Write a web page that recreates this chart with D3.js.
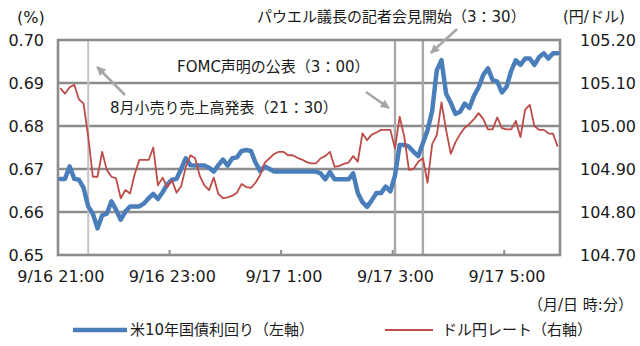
<!DOCTYPE html>
<html>
<head>
<meta charset="utf-8">
<script src="https://cdn.jsdelivr.net/npm/d3@7"></script>
<style>
  body { margin: 0; background: #fff; }
  svg { display: block; font-family: "DejaVu Sans", "Noto Sans CJK JP", sans-serif; }
</style>
</head>
<body>
<div id="chart"></div>
<script>
      // DATA
      // 5-minute observations, 9/16 21:00 .. 9/17 5:55 (NY time shown as JST label)
      var startTime = new Date(2020, 8, 16, 21, 0);
      var endTime = new Date(2020, 8, 17, 5, 55);
      var times = d3.timeMinute.every(5).range(startTime, d3.timeMinute.offset(endTime, 1));

      // US 10y treasury yield (%), left axis
      var yieldVals = [
        0.6677, 0.6677, 0.6706, 0.6677, 0.6675, 0.6656, 0.6613, 0.6596, 0.6562, 0.6592,
        0.6596, 0.6625, 0.6605, 0.6582, 0.6601, 0.6613, 0.6613, 0.6613, 0.6620, 0.6632,
        0.6642, 0.6630, 0.6646, 0.6664, 0.6675, 0.6677, 0.6700, 0.6725, 0.6709, 0.6708,
        0.6708, 0.6708, 0.6703, 0.6694, 0.6709, 0.6722, 0.6708, 0.6725, 0.6727, 0.6742,
        0.6744, 0.6742, 0.6715, 0.6695, 0.6706, 0.6700, 0.6694, 0.6694, 0.6694, 0.6694,
        0.6694, 0.6694, 0.6694, 0.6694, 0.6694, 0.6694, 0.6690, 0.6676, 0.6693, 0.6676,
        0.6676, 0.6676, 0.6676, 0.6690, 0.6644, 0.6623, 0.6612, 0.6627, 0.6644, 0.6644,
        0.6659, 0.6648, 0.6685, 0.6756, 0.6756, 0.6752, 0.6740, 0.6730, 0.6760, 0.6790,
        0.6835, 0.6930, 0.6953, 0.6875, 0.6854, 0.6828, 0.6833, 0.6852, 0.6842, 0.6870,
        0.6890, 0.6919, 0.6934, 0.6907, 0.6903, 0.6878, 0.6891, 0.6928, 0.6953, 0.6942,
        0.6957, 0.6957, 0.6942, 0.6960, 0.6969, 0.6957, 0.6969, 0.6969
      ];

      // USD/JPY (yen per dollar), right axis
      var usdjpyVals = [
        105.088, 105.075, 105.090, 105.096, 105.062, 105.052, 104.975, 104.882, 104.882, 104.940,
        104.898, 104.882, 104.878, 104.832, 104.851, 104.843, 104.888, 104.921, 104.921, 104.921,
        104.950, 104.862, 104.880, 104.858, 104.874, 104.845, 104.860, 104.905, 104.932, 104.925,
        104.884, 104.862, 104.851, 104.880, 104.842, 104.832, 104.834, 104.838, 104.845, 104.865,
        104.858, 104.856, 104.868, 104.886, 104.915, 104.925, 104.935, 104.940, 104.940, 104.932,
        104.932, 104.926, 104.922, 104.916, 104.913, 104.913, 104.925, 104.930, 104.940, 104.905,
        104.907, 104.912, 104.915, 104.930, 104.917, 104.983, 104.967, 104.980, 104.985, 104.991,
        104.991, 104.991, 104.948, 105.022, 104.975, 104.898, 104.900, 104.917, 104.925, 104.868,
        104.958, 104.979, 105.055, 104.991, 104.935, 104.962, 104.981, 104.996, 105.005, 105.016,
        105.030, 105.016, 104.992, 104.992, 105.020, 104.995, 104.992, 104.992, 105.012, 104.974,
        105.038, 105.049, 105.000, 104.991, 104.991, 104.983, 104.982, 104.952
      ];

      var leftTicks = [0.65, 0.66, 0.67, 0.68, 0.69, 0.70];
      var rightTicks = [104.70, 104.80, 104.90, 105.00, 105.10, 105.20];
      var labelTimes = [
        new Date(2020, 8, 16, 21, 0), new Date(2020, 8, 16, 23, 0), new Date(2020, 8, 17, 1, 0),
        new Date(2020, 8, 17, 3, 0), new Date(2020, 8, 17, 5, 0)
      ];
      var eventTimes = [new Date(2020, 8, 16, 21, 30), new Date(2020, 8, 17, 3, 0), new Date(2020, 8, 17, 3, 30)];
      var eventNames = ["8月小売り売上高発表（21：30）", "FOMC声明の公表（3：00）", "パウエル議長の記者会見開始（3：30）"];
      var seriesNames = ["米10年国債利回り（左軸）", "ドル円レート（右軸）"];

      // LAYOUT
      var W = 640, H = 346;
      var plot = { left: 58, right: 560, top: 40, bottom: 255 };
      var gridColor = "#8c8c8c";
      var blue = "#4a7ebb", red = "#be4b48";

      var svg = d3.select("#chart").append("svg")
        .attr("width", W).attr("height", H);

      // scales - categories are centred in 5-minute slots
      var half = 2.5 * 60 * 1000;
      var x = d3.scaleTime()
        .domain([new Date(+startTime - half), new Date(+endTime + half)])
        .range([plot.left, plot.right]);
      var yL = d3.scaleLinear().domain([0.65, 0.70]).range([plot.bottom, plot.top]);
      var yR = d3.scaleLinear().domain([104.70, 105.20]).range([plot.bottom, plot.top]);

      // gridlines
      svg.append("g")
        .selectAll("line")
        .data(leftTicks.slice(1, -1))
        .enter().append("line")
        .attr("x1", plot.left).attr("x2", plot.right)
        .attr("y1", function(d) { return yL(d); })
        .attr("y2", function(d) { return yL(d); })
        .attr("stroke", gridColor).attr("stroke-width", 2.6);

      // event lines
      svg.append("g")
        .selectAll("line")
        .data(eventTimes)
        .enter().append("line")
        .attr("x1", function(d) { return x(d); })
        .attr("x2", function(d) { return x(d); })
        .attr("y1", plot.top).attr("y2", plot.bottom)
        .attr("stroke", function(d, i) { return i == 0 ? "#c4c4c4" : "#a8a8a8"; })
        .attr("stroke-width", function(d, i) { return i == 0 ? 2 : 2.4; });

      // tick marks on category boundaries
      svg.append("g")
        .selectAll("line")
        .data(labelTimes)
        .enter().append("line")
        .attr("x1", function(d) { return x(new Date(+d - half)); })
        .attr("x2", function(d) { return x(new Date(+d - half)); })
        .attr("y1", plot.bottom - 5).attr("y2", plot.bottom)
        .attr("stroke", gridColor).attr("stroke-width", 2);

      // plot border
      svg.append("rect")
        .attr("x", plot.left).attr("y", plot.top)
        .attr("width", plot.right - plot.left).attr("height", plot.bottom - plot.top)
        .attr("fill", "none").attr("stroke", gridColor).attr("stroke-width", 2.6);

      // series
      var lineL = d3.line()
        .x(function(d, i) { return x(times[i]); })
        .y(function(d) { return yL(d); });
      var lineR = d3.line()
        .x(function(d, i) { return x(times[i]); })
        .y(function(d) { return yR(d); });

      svg.append("path")
        .datum(yieldVals)
        .attr("d", lineL)
        .attr("fill", "none").attr("stroke", blue).attr("stroke-width", 4.5)
        .attr("stroke-linejoin", "round").attr("stroke-linecap", "round");

      svg.append("path")
        .datum(usdjpyVals)
        .attr("d", lineR)
        .attr("fill", "none").attr("stroke", red).attr("stroke-width", 1.8)
        .attr("stroke-linejoin", "round");

      // axes
      var fmtTime = d3.timeFormat("%-m/%-d %-H:%M");

      var axL = svg.append("g")
        .attr("transform", "translate(" + plot.left + ",0)")
        .call(d3.axisLeft(yL).tickValues(leftTicks).tickFormat(d3.format(".2f")).tickSize(0).tickPadding(14));
      var axR = svg.append("g")
        .attr("transform", "translate(" + plot.right + ",0)")
        .call(d3.axisRight(yR).tickValues(rightTicks).tickFormat(d3.format(".2f")).tickSize(0).tickPadding(20));
      var axB = svg.append("g")
        .attr("transform", "translate(0," + plot.bottom + ")")
        .call(d3.axisBottom(x).tickValues(labelTimes).tickFormat(fmtTime).tickSize(0).tickPadding(16));

      [axL, axR, axB].forEach(function(ax) {
        ax.select(".domain").remove();
        ax.attr("font-family", null).attr("font-size", null);
        ax.selectAll("text").attr("fill", "#1a1a1a").style("font-size", "16px");
      });

      // axis units
      svg.append("text").attr("x", 17).attr("y", 17).attr("dy", "0.35em")
        .style("font-size", "16px").attr("fill", "#1a1a1a").text("(%)");
      svg.append("text").attr("x", 563).attr("y", 17).attr("dy", "0.35em")
        .style("font-size", "15px").attr("fill", "#1a1a1a").text("(円/ドル)");
      svg.append("text").attr("x", 528).attr("y", 305).attr("dy", "0.35em")
        .style("font-size", "15px").attr("fill", "#1a1a1a").text("（月/日 時:分）");

      // annotations
      var defs = svg.append("defs");
      defs.append("marker")
        .attr("id", "ah").attr("viewBox", "0 0 10 10")
        .attr("refX", 9).attr("refY", 5)
        .attr("markerWidth", 4.2).attr("markerHeight", 3.6)
        .attr("orient", "auto")
        .append("path").attr("d", "M0,0L10,5L0,10z").attr("fill", "#a6a6a6");

      var notes = [
        { ev: 0, tx: 110, ty: 108, ax: 125, ay: 95, hx: 9, hy: 67 },
        { ev: 1, tx: 177, ty: 67, ax: 366, ay: 92, hx: -6, hy: 108 },
        { ev: 2, tx: 257, ty: 17, ax: 457, ay: 29, hx: 8, hy: 53 }
      ];

      notes.forEach(function(n) {
        var ex = x(eventTimes[n.ev]);
        svg.append("line")
          .attr("x1", n.ax).attr("y1", n.ay)
          .attr("x2", ex + n.hx).attr("y2", n.hy)
          .attr("stroke", "#a6a6a6").attr("stroke-width", 2.5)
          .attr("marker-end", "url(#ah)");
        svg.append("text")
          .attr("x", n.tx).attr("y", n.ty).attr("dy", "0.35em")
          .style("font-size", "15px").attr("fill", "#1a1a1a")
          .text(eventNames[n.ev]);
      });

      // legend
      var legend = [
        { name: seriesNames[0], color: blue, w: 4.5, x1: 73, x2: 127, tx: 130 },
        { name: seriesNames[1], color: red, w: 1.8, x1: 385, x2: 433, tx: 442 }
      ];
      var lg = svg.append("g").attr("transform", "translate(0,330)");
      lg.selectAll("line")
        .data(legend)
        .enter().append("line")
        .attr("x1", function(d) { return d.x1; })
        .attr("x2", function(d) { return d.x2; })
        .attr("y1", 0).attr("y2", 0)
        .attr("stroke", function(d) { return d.color; })
        .attr("stroke-width", function(d) { return d.w; });
      lg.selectAll("text")
        .data(legend)
        .enter().append("text")
        .attr("x", function(d) { return d.tx; })
        .attr("y", 0).attr("dy", "0.35em")
        .style("font-size", "15px").attr("fill", "#1a1a1a")
        .text(function(d) { return d.name; });
</script>
</body>
</html>
